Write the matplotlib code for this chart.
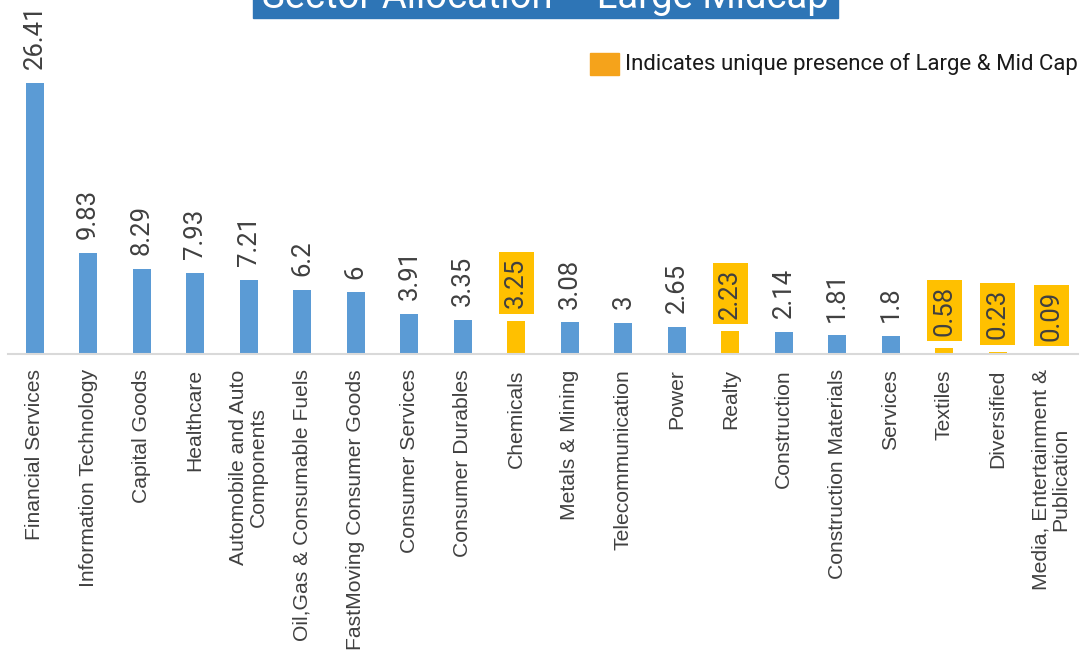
import matplotlib
matplotlib.use("Agg")
from matplotlib import pyplot as plt

plt.rcParams['font.family'] = ['Roboto', 'DejaVu Sans']

sectors = ['Financial Services', 'Information Technology', 'Capital Goods', 'Healthcare',
           'Automobile and Auto\nComponents', 'Oil,Gas & Consumable Fuels',
           'FastMoving Consumer Goods', 'Consumer Services', 'Consumer Durables',
           'Chemicals', 'Metals & Mining', 'Telecommunication', 'Power', 'Realty',
           'Construction', 'Construction Materials', 'Services', 'Textiles',
           'Diversified', 'Media, Entertainment &\nPublication']
weights = [26.41, 9.83, 8.29, 7.93, 7.21, 6.2, 6, 3.91, 3.35, 3.25, 3.08, 3, 2.65,
           2.23, 2.14, 1.81, 1.8, 0.58, 0.23, 0.09]
value_text = ['26.41', '9.83', '8.29', '7.93', '7.21', '6.2', '6', '3.91', '3.35', '3.25',
              '3.08', '3', '2.65', '2.23', '2.14', '1.81', '1.8', '0.58', '0.23', '0.09']
# sectors held only by large & mid cap fund
unique = ['Chemicals', 'Realty', 'Textiles', 'Diversified', 'Media, Entertainment &\nPublication']

blue = '#5B9BD5'
yellow = '#FFC000'
text_col = '#404040'

fig = plt.figure(figsize=(10.82, 6.58), dpi=100)
ax = fig.add_axes([8 / 1082, 1 - 354 / 658, 1070 / 1082, 354 / 658])

x = list(range(len(sectors)))
colors = []
for s in sectors:
    if s.startswith('Media'):
        colors.append('#BDD7EE')
    elif s in unique:
        colors.append(yellow)
    else:
        colors.append(blue)
ax.bar(x, weights, width=0.34, color=colors)

for i, v in enumerate(weights):
    if sectors[i] in unique:
        ax.annotate(value_text[i], (i, v), xytext=(0, 9), textcoords='offset points',
                    rotation=90, ha='center', va='bottom', fontsize=18.5, color=text_col,
                    bbox=dict(boxstyle='square,pad=0.22', fc=yellow, ec='none'))
    else:
        ax.annotate(value_text[i], (i, v), xytext=(0, 10), textcoords='offset points',
                    rotation=90, ha='center', va='bottom', fontsize=18.5, color=text_col)

ax.set_xlim(-0.5, len(sectors) - 0.5)
ax.set_ylim(0, 34.5)
ax.set_xticks(x)
ax.set_xticklabels(sectors, rotation=90, fontsize=15.2, color=text_col,
                   multialignment='center', family=['Liberation Sans', 'DejaVu Sans'],
                   linespacing=1.05)
ax.tick_params(axis='x', length=0, pad=11)
ax.set_yticks([])
for side in ['top', 'left', 'right']:
    ax.spines[side].set_visible(False)
ax.spines['bottom'].set_color('#D9D9D9')
ax.spines['bottom'].set_linewidth(1.5)

# title banner, cut at the top edge like the source
fig.patches.append(plt.Rectangle((253 / 1082, 1 - 18 / 658), 585 / 1082, 0.1,
                                 transform=fig.transFigure, color='#2E75B6'))
fig.text(545 / 1082, 1 - 16 / 658, 'Sector Allocation \u2013 Large Midcap', color='white',
         fontsize=27.5, ha='center', va='bottom')

# legend note
fig.patches.append(plt.Rectangle((590 / 1082, 1 - 75 / 658), 29 / 1082, 22 / 658,
                                 transform=fig.transFigure, color='#F5A31B'))
fig.text(625 / 1082, 1 - 64 / 658, 'Indicates unique presence of Large & Mid Cap',
         color='#1A1A1A', fontsize=16, ha='left', va='center')

fig.savefig('out.png', dpi=100)
